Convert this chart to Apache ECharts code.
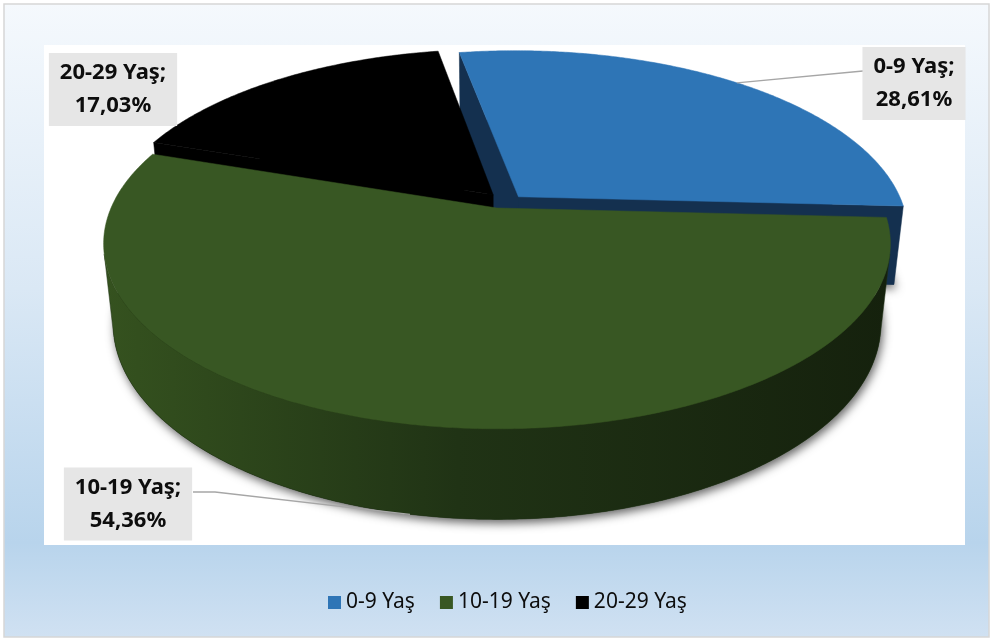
<!DOCTYPE html>
<html>
<head>
<meta charset="utf-8">
<script src="https://cdn.jsdelivr.net/npm/echarts@6/dist/echarts.min.js"></script>
<style>
  html, body { margin: 0; padding: 0; background: #ffffff; }
  #chart { width: 993px; height: 641px; }
</style>
</head>
<body>
<div id="chart"></div>
<script>
// Age-group shares, in percent
const categories = ['0-9 Yaş', '10-19 Yaş', '20-29 Yaş'];
const shares = [28.61, 54.36, 17.03];

// Slice styling
const topColors = ['#2e75b6', '#385723', '#000000'];
const sideColors = ['#14304f', '#1f3114', '#000000'];
// pull-out of each slice in the pie's plane (x: right, y: away from the viewer), in radii
const explodeOffsets = [[0.0563, 0.0637], [0, 0], [-0.01, 0.075]];

// Perspective camera for the 3-D pie (radius = 1 in model units)
const DEG = Math.PI / 180;
const view = {
  cx: 497, cy: 208,      // screen position of the pie centre
  scale: 386,            // pixels per radius at the centre's depth
  tilt: 27.5 * DEG,      // elevation of the camera
  dist: 4.6,             // camera distance, in radii
  depth: 0.235,          // pie thickness, in radii
  firstAngle: -10 * DEG  // where the first slice starts, clockwise from the back
};
const sinT = Math.sin(view.tilt), cosT = Math.cos(view.tilt);
const camera = [0, -view.dist * cosT, view.dist * sinT];

function project(X, Y, Z) {
  const den = 1 + (Y * cosT - Z * sinT) / view.dist;
  return [view.cx + view.scale * X / den, view.cy - view.scale * (Y * sinT + Z * cosT) / den];
}
function camDistance(X, Y, Z) {
  return Math.hypot(X - camera[0], Y - camera[1], Z - camera[2]);
}

const total = shares.reduce((a, b) => a + b, 0);
const startAngles = [];
{
  let acc = view.firstAngle;
  shares.forEach(v => { startAngles.push(acc); acc += v / total * 2 * Math.PI; });
}

// Label boxes and their leader lines
const labelLayout = [
  { x: 914, y: 83.5, anchor: 'top', end: [863, 71] },
  { x: 128, y: 504, anchor: 'bottom', end: [193, 492], stub: 22 },
  { x: 113, y: 89.5 }
];

function formatShare(v) {
  return v.toFixed(2).replace('.', ',') + '%';
}

function renderSlice(i, value) {
  const a0 = startAngles[i];
  const a1 = a0 + value / total * 2 * Math.PI;
  const mid = (a0 + a1) / 2;
  const ex = explodeOffsets[i][0], ey = explodeOffsets[i][1];
  const H = view.depth;
  const rim = (t, z) => project(ex + Math.sin(t), ey + Math.cos(t), z);
  const arc = (from, to, z) => {
    const n = Math.max(2, Math.ceil(Math.abs(to - from) / (0.5 * DEG)));
    const pts = [];
    for (let k = 0; k <= n; k++) pts.push(rim(from + (to - from) * k / n, z));
    return pts;
  };
  const apexTop = project(ex, ey, 0);
  const apexBottom = project(ex, ey, -H);
  const children = [];
  const sideFill = i === 1
    ? { type: 'linear', x: 0, y: 0, x2: 1, y2: 0,
        colorStops: [{ offset: 0, color: '#35521f' }, { offset: 0.45, color: '#203315' }, { offset: 1, color: '#15210d' }] }
    : sideColors[i];

  // base outline that casts the soft drop shadow
  children.push({
    type: 'polygon', z2: 1,
    shape: { points: [apexBottom].concat(arc(a0, a1, -H)) },
    style: { fill: sideColors[i], shadowBlur: 10, shadowColor: 'rgba(0,0,0,0.6)', shadowOffsetX: 2, shadowOffsetY: 4 }
  });

  // outer curved wall: keep only the parts that face the camera
  const faces = [];
  const facing = t => Math.sin(t) * (camera[0] - ex - Math.sin(t)) + Math.cos(t) * (camera[1] - ey - Math.cos(t)) > 0;
  const steps = Math.ceil((a1 - a0) / (0.25 * DEG));
  let runStart = null;
  for (let k = 0; k <= steps; k++) {
    const t = a0 + (a1 - a0) * k / steps;
    const vis = facing(t);
    if (vis && runStart === null) runStart = t;
    if ((!vis || k === steps) && runStart !== null) {
      const runEnd = vis ? t : a0 + (a1 - a0) * (k - 1) / steps;
      if (runEnd > runStart) {
        const tm = (runStart + runEnd) / 2;
        faces.push({
          points: arc(runStart, runEnd, 0).concat(arc(runEnd, runStart, -H)),
          depth: camDistance(ex + Math.sin(tm), ey + Math.cos(tm), -H / 2)
        });
      }
      runStart = null;
    }
  }

  // flat radial faces at both cut edges
  const radial = (t, nx, ny) => {
    if (nx * (camera[0] - ex) + ny * (camera[1] - ey) <= 0) return;
    faces.push({
      points: [apexTop, rim(t, 0), rim(t, -H), apexBottom],
      depth: camDistance(ex + 0.5 * Math.sin(t), ey + 0.5 * Math.cos(t), -H / 2)
    });
  };
  radial(a0, -Math.cos(a0), Math.sin(a0));
  radial(a1, Math.cos(a1), -Math.sin(a1));

  faces.forEach(f => {
    children.push({
      type: 'polygon', z2: 10 + (10 - f.depth) * 10,
      shape: { points: f.points },
      style: { fill: sideFill, stroke: sideColors[i], lineWidth: 0.5 }
    });
  });

  // top face
  children.push({
    type: 'polygon', z2: 200,
    shape: { points: [apexTop].concat(arc(a0, a1, 0)) },
    style: { fill: topColors[i], stroke: topColors[i], lineWidth: 0.5 }
  });

  // data label with leader line
  const lay = labelLayout[i];
  if (lay.anchor) {
    const anchor = lay.anchor === 'top' ? rim(mid, 0) : rim(mid, -H);
    const pts = lay.stub ? [lay.end, [lay.end[0] + lay.stub, lay.end[1]], anchor] : [lay.end, anchor];
    children.push({
      type: 'polyline', z2: 300,
      shape: { points: pts },
      style: { stroke: '#a6a6a6', lineWidth: 1.3, fill: null }
    });
  }
  children.push({
    type: 'text', z2: 310, x: lay.x, y: lay.y,
    style: {
      text: categories[i] + ';\n' + formatShare(value),
      font: 'bold 22px "Noto Sans"', fill: '#0d0d0d',
      align: 'center', verticalAlign: 'middle', lineHeight: 33,
      backgroundColor: '#e6e6e6', padding: [5, 11, 2, 11]
    }
  });

  return { type: 'group', children };
}

const chart = echarts.init(document.getElementById('chart'), null, { renderer: 'canvas' });

chart.setOption({
  animation: false,
  graphic: {
    elements: [
      {
        type: 'rect', silent: true,
        shape: { x: 4, y: 4, width: 985, height: 633 },
        style: {
          fill: { type: 'linear', x: 0, y: 0, x2: 0, y2: 1,
            colorStops: [
              { offset: 0, color: '#f5f9fd' },
              { offset: 0.45, color: '#dae8f5' },
              { offset: 0.85, color: '#b8d4ec' },
              { offset: 1, color: '#d0e1f2' }
            ] },
          stroke: '#d6d6d6', lineWidth: 1.5
        }
      },
      {
        type: 'rect', silent: true,
        shape: { x: 44, y: 45, width: 921, height: 500 },
        style: { fill: '#ffffff' }
      }
    ]
  },
  legend: {
    left: 328, top: 592, padding: 0,
    icon: 'rect', itemWidth: 13, itemHeight: 13, itemGap: 25,
    itemStyle: { borderWidth: 0 },
    textStyle: { fontFamily: 'Noto Sans', fontSize: 21, color: '#0d0d0d' },
    data: categories
  },
  series: categories.map((name, i) => ({
    type: 'custom',
    name,
    coordinateSystem: 'none',
    silent: true,
    itemStyle: { color: topColors[i] },
    data: [shares[i]],
    renderItem: (params, api) => renderSlice(i, api.value(0))
  }))
});
</script>
</body>
</html>
